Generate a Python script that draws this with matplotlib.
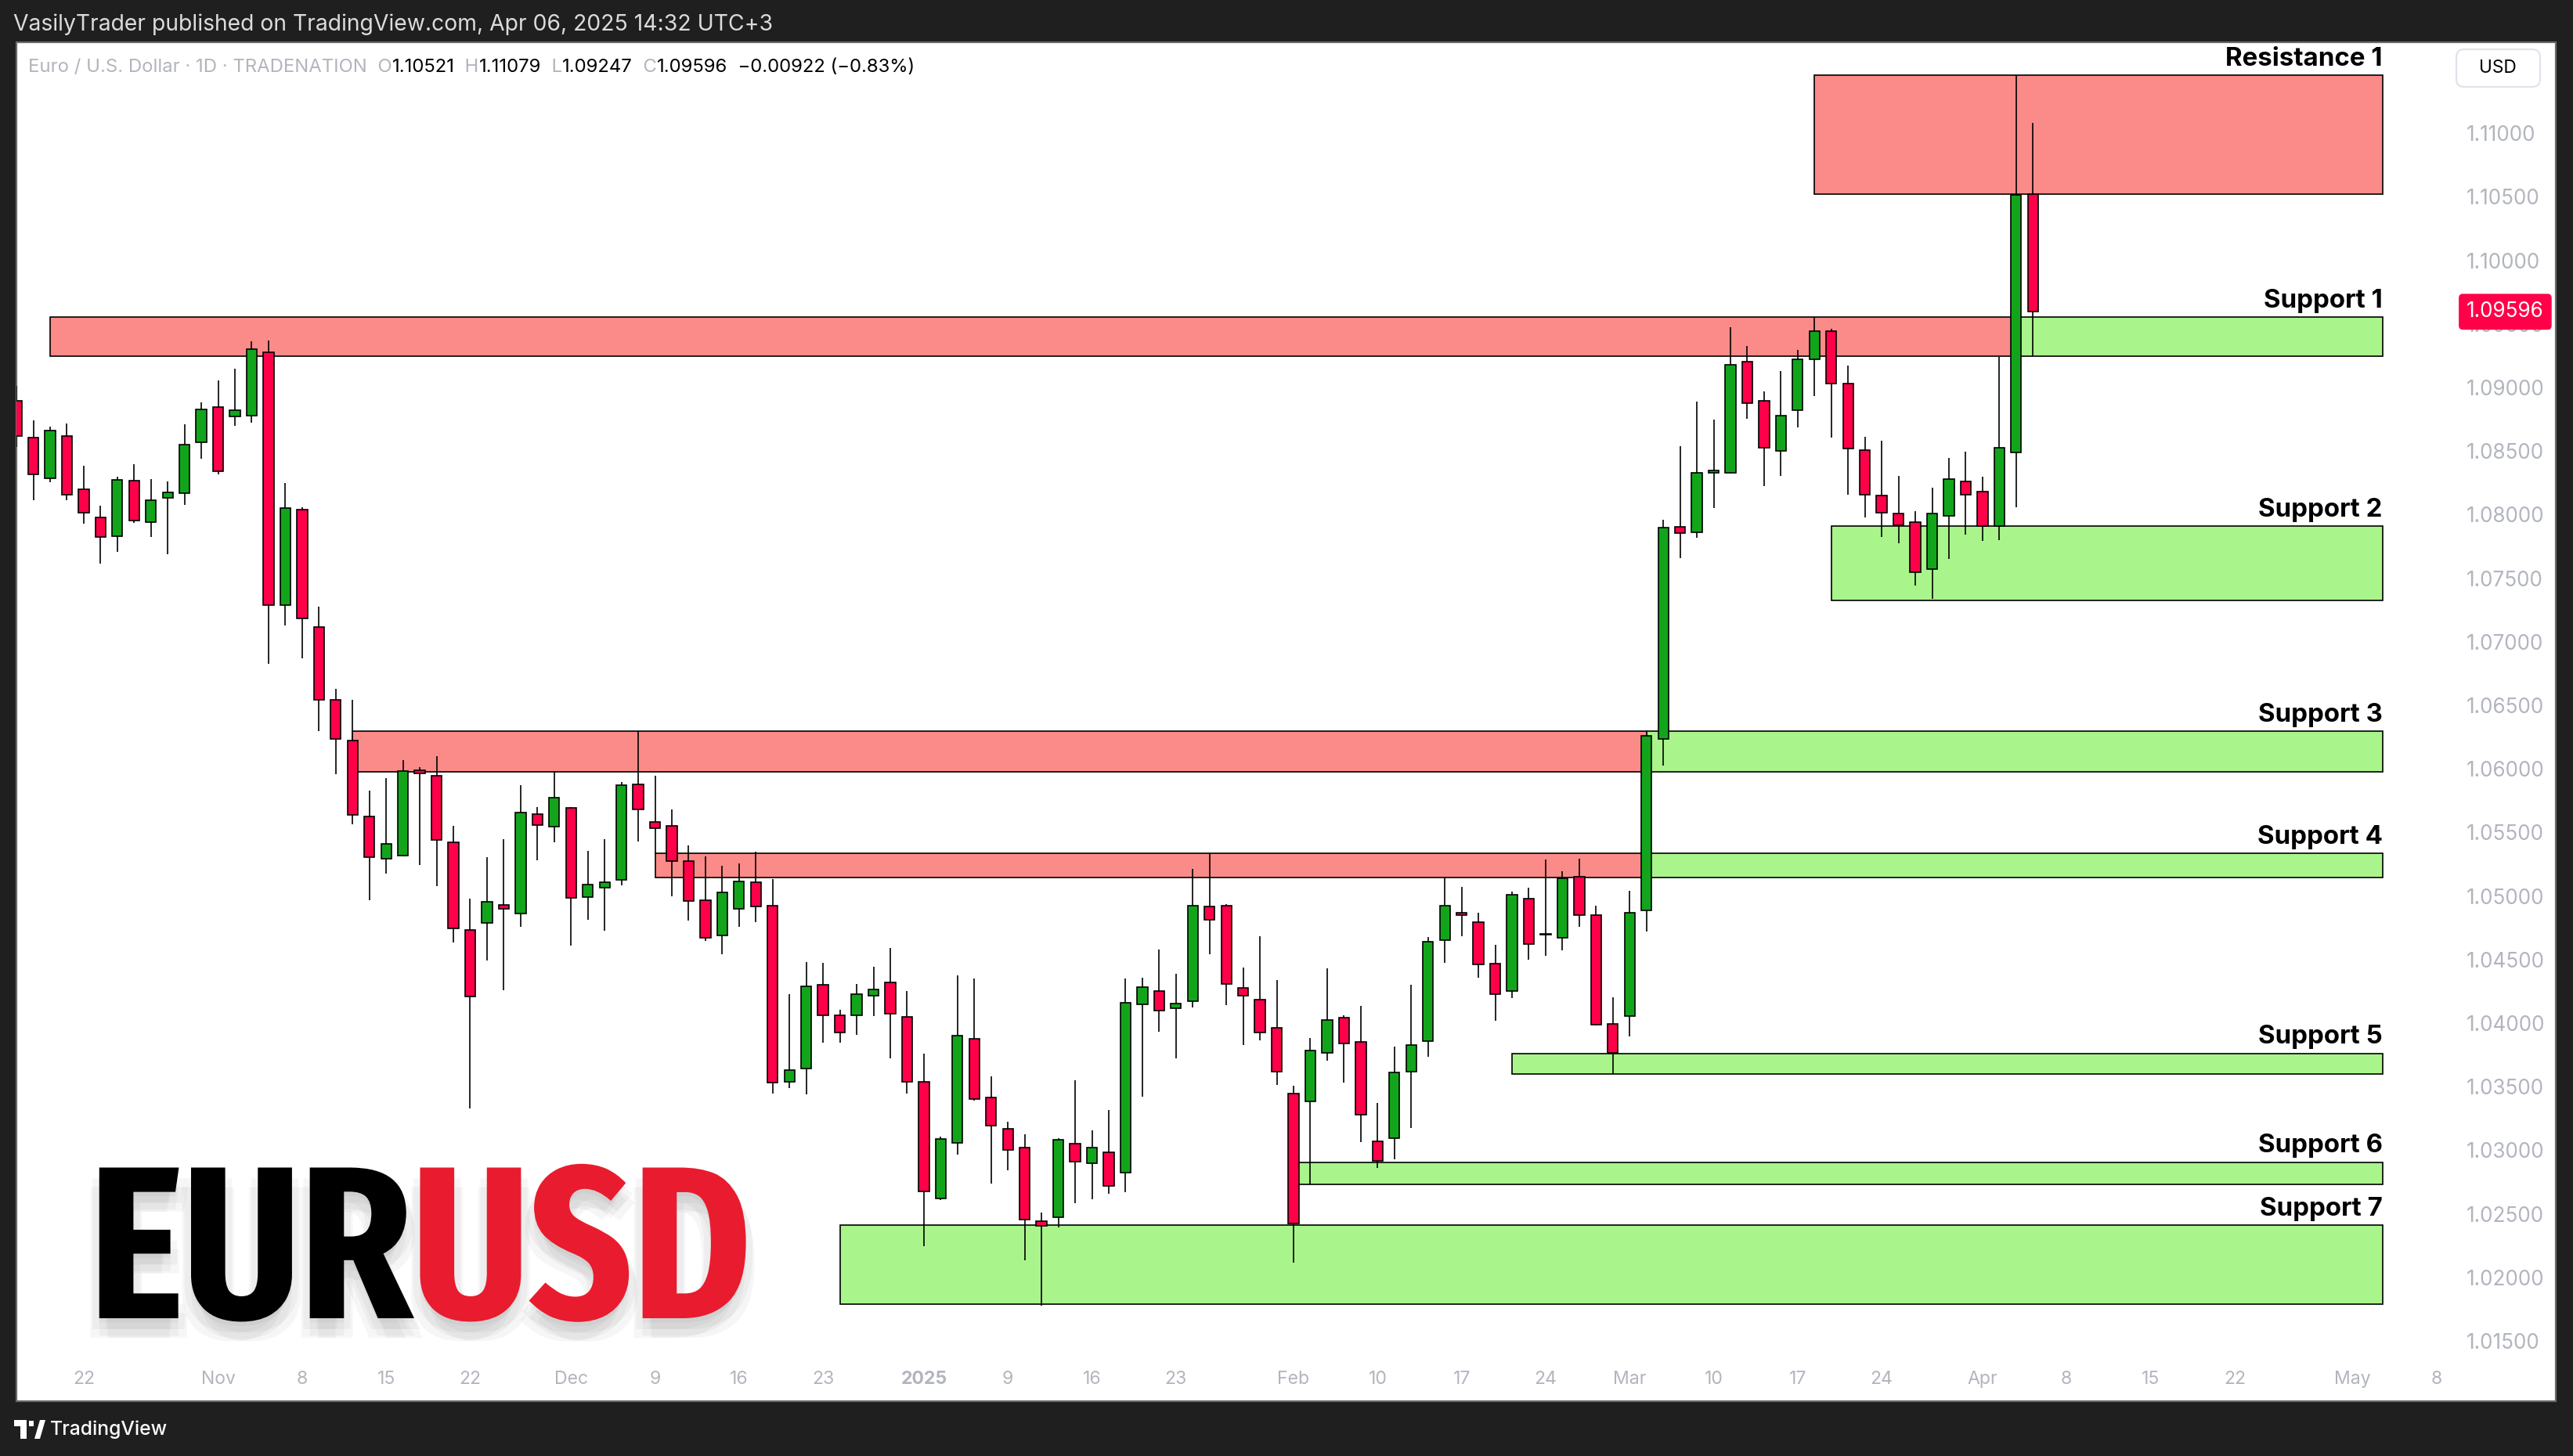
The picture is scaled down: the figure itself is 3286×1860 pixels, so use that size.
import matplotlib
matplotlib.use("Agg")
import matplotlib.pyplot as plt
from matplotlib import font_manager
from matplotlib import patheffects
from matplotlib.patches import Rectangle, Polygon, FancyBboxPatch
import numpy as np
import pandas as pd

# EUR/USD daily candles (TRADENATION, 1D)
dates = [
    "2024-10-16", "2024-10-17", "2024-10-18", "2024-10-21", "2024-10-22", "2024-10-23",
    "2024-10-24", "2024-10-25", "2024-10-28", "2024-10-29", "2024-10-30", "2024-10-31",
    "2024-11-01", "2024-11-04", "2024-11-05", "2024-11-06", "2024-11-07", "2024-11-08",
    "2024-11-11", "2024-11-12", "2024-11-13", "2024-11-14", "2024-11-15", "2024-11-18",
    "2024-11-19", "2024-11-20", "2024-11-21", "2024-11-22", "2024-11-25", "2024-11-26",
    "2024-11-27", "2024-11-28", "2024-11-29", "2024-12-02", "2024-12-03", "2024-12-04",
    "2024-12-05", "2024-12-06", "2024-12-09", "2024-12-10", "2024-12-11", "2024-12-12",
    "2024-12-13", "2024-12-16", "2024-12-17", "2024-12-18", "2024-12-19", "2024-12-20",
    "2024-12-23", "2024-12-24", "2024-12-26", "2024-12-27", "2024-12-30", "2024-12-31",
    "2025-01-02", "2025-01-03", "2025-01-06", "2025-01-07", "2025-01-08", "2025-01-09",
    "2025-01-10", "2025-01-13", "2025-01-14", "2025-01-15", "2025-01-16", "2025-01-17",
    "2025-01-20", "2025-01-21", "2025-01-22", "2025-01-23", "2025-01-24", "2025-01-27",
    "2025-01-28", "2025-01-29", "2025-01-30", "2025-01-31", "2025-02-03", "2025-02-04",
    "2025-02-05", "2025-02-06", "2025-02-07", "2025-02-10", "2025-02-11", "2025-02-12",
    "2025-02-13", "2025-02-14", "2025-02-17", "2025-02-18", "2025-02-19", "2025-02-20",
    "2025-02-21", "2025-02-24", "2025-02-25", "2025-02-26", "2025-02-27", "2025-02-28",
    "2025-03-03", "2025-03-04", "2025-03-05", "2025-03-06", "2025-03-07", "2025-03-10",
    "2025-03-11", "2025-03-12", "2025-03-13", "2025-03-14", "2025-03-17", "2025-03-18",
    "2025-03-19", "2025-03-20", "2025-03-21", "2025-03-24", "2025-03-25", "2025-03-26",
    "2025-03-27", "2025-03-28", "2025-03-31", "2025-04-01", "2025-04-02", "2025-04-03",
    "2025-04-04",
]
opens = [
    1.08898, 1.08606, 1.08288, 1.08620, 1.08202, 1.07980, 1.07830, 1.08269, 1.07941, 1.08132,
    1.08169, 1.08569, 1.08848, 1.08772, 1.08779, 1.09277, 1.07286, 1.08042, 1.07115, 1.06545,
    1.06224, 1.05623, 1.05296, 1.05316, 1.05987, 1.05944, 1.05423, 1.04732, 1.04789, 1.04929,
    1.04862, 1.05643, 1.05547, 1.05694, 1.04992, 1.05066, 1.05129, 1.05877, 1.05583, 1.05550,
    1.05276, 1.04966, 1.04692, 1.04899, 1.05109, 1.04925, 1.03538, 1.03642, 1.04303, 1.04063,
    1.04061, 1.04217, 1.04322, 1.04046, 1.03540, 1.02618, 1.03057, 1.03877, 1.03415, 1.03170,
    1.03021, 1.02442, 1.02470, 1.03054, 1.02896, 1.02981, 1.02821, 1.04145, 1.04254, 1.04115,
    1.04174, 1.04919, 1.04926, 1.04277, 1.04185, 1.03964, 1.03445, 1.03384, 1.03766, 1.04045,
    1.03852, 1.03071, 1.03094, 1.03621, 1.03856, 1.04650, 1.04866, 1.04795, 1.04469, 1.04253,
    1.04976, 1.04695, 1.04673, 1.05152, 1.04850, 1.03994, 1.04057, 1.04889, 1.06237, 1.07905,
    1.07858, 1.08329, 1.08329, 1.09205, 1.08898, 1.08502, 1.08824, 1.09223, 1.09446, 1.09029,
    1.08506, 1.08152, 1.08010, 1.07943, 1.07572, 1.07993, 1.08261, 1.08184, 1.07912, 1.08491,
    1.10521,
]
highs = [
    1.09011, 1.08740, 1.08690, 1.08715, 1.08382, 1.08068, 1.08296, 1.08395, 1.08278, 1.08259,
    1.08709, 1.08881, 1.09054, 1.09148, 1.09362, 1.09368, 1.08247, 1.08056, 1.07279, 1.06631,
    1.06541, 1.05827, 1.05930, 1.06071, 1.06011, 1.06097, 1.05550, 1.04982, 1.05306, 1.05450,
    1.05874, 1.05697, 1.05977, 1.05700, 1.05353, 1.05447, 1.05894, 1.06294, 1.05947, 1.05683,
    1.05396, 1.05310, 1.05240, 1.05253, 1.05346, 1.05130, 1.04228, 1.04480, 1.04474, 1.04104,
    1.04305, 1.04443, 1.04590, 1.04251, 1.03757, 1.03104, 1.04374, 1.04351, 1.03580, 1.03224,
    1.03125, 1.02507, 1.03094, 1.03549, 1.03155, 1.03316, 1.04351, 1.04358, 1.04577, 1.04386,
    1.05216, 1.05334, 1.04937, 1.04440, 1.04681, 1.04341, 1.03507, 1.03882, 1.04431, 1.04060,
    1.04135, 1.03369, 1.03817, 1.04300, 1.04677, 1.05149, 1.05070, 1.04870, 1.04614, 1.05035,
    1.05066, 1.05286, 1.05196, 1.05294, 1.04925, 1.04202, 1.05043, 1.06299, 1.07961, 1.08537,
    1.08891, 1.08749, 1.09474, 1.09326, 1.08969, 1.09131, 1.09294, 1.09552, 1.09464, 1.09174,
    1.08612, 1.08583, 1.08304, 1.08028, 1.08212, 1.08445, 1.08495, 1.08297, 1.09241, 1.11457,
    1.11079,
]
lows = [
    1.08534, 1.08115, 1.08257, 1.08115, 1.07931, 1.07614, 1.07707, 1.07937, 1.07826, 1.07688,
    1.08076, 1.08440, 1.08317, 1.08701, 1.08723, 1.06826, 1.07130, 1.06871, 1.06294, 1.05957,
    1.05563, 1.04969, 1.05173, 1.05310, 1.05243, 1.05076, 1.04632, 1.03330, 1.04495, 1.04261,
    1.04756, 1.05283, 1.05420, 1.04612, 1.04815, 1.04729, 1.05086, 1.05430, 1.05333, 1.05000,
    1.04809, 1.04649, 1.04542, 1.04756, 1.04796, 1.03448, 1.03486, 1.03437, 1.03847, 1.03843,
    1.03910, 1.04057, 1.03724, 1.03448, 1.02246, 1.02609, 1.02967, 1.03390, 1.02736, 1.02844,
    1.02133, 1.01777, 1.02394, 1.02585, 1.02613, 1.02658, 1.02672, 1.03422, 1.03929, 1.03724,
    1.04124, 1.04544, 1.04143, 1.03830, 1.03867, 1.03511, 1.02116, 1.02734, 1.03707, 1.03534,
    1.03063, 1.02862, 1.02929, 1.03177, 1.03738, 1.04477, 1.04681, 1.04359, 1.04017, 1.04194,
    1.04501, 1.04532, 1.04571, 1.04756, 1.03982, 1.03601, 1.03892, 1.04720, 1.06028, 1.07657,
    1.07816, 1.08053, 1.08320, 1.08757, 1.08226, 1.08307, 1.08689, 1.08930, 1.08608, 1.08155,
    1.07975, 1.07823, 1.07774, 1.07445, 1.07335, 1.07650, 1.07844, 1.07791, 1.07802, 1.08057,
    1.09247,
]
closes = [
    1.08620, 1.08317, 1.08662, 1.08157, 1.08015, 1.07824, 1.08276, 1.07951, 1.08115, 1.08177,
    1.08553, 1.08830, 1.08341, 1.08824, 1.09304, 1.07286, 1.08054, 1.07183, 1.06545, 1.06237,
    1.05640, 1.05306, 1.05413, 1.05984, 1.05964, 1.05443, 1.04746, 1.04211, 1.04956, 1.04896,
    1.05657, 1.05557, 1.05774, 1.04986, 1.05089, 1.05106, 1.05874, 1.05683, 1.05533, 1.05276,
    1.04962, 1.04672, 1.05029, 1.05116, 1.04916, 1.03532, 1.03631, 1.04292, 1.04061, 1.03927,
    1.04230, 1.04266, 1.04074, 1.03539, 1.02675, 1.03089, 1.03903, 1.03401, 1.03191, 1.03000,
    1.02453, 1.02406, 1.03083, 1.02908, 1.03021, 1.02719, 1.04162, 1.04285, 1.04098, 1.04155,
    1.04926, 1.04810, 1.04308, 1.04216, 1.03926, 1.03618, 1.02422, 1.03785, 1.04025, 1.03840,
    1.03279, 1.02913, 1.03613, 1.03825, 1.04642, 1.04925, 1.04850, 1.04461, 1.04229, 1.05011,
    1.04622, 1.04700, 1.05141, 1.04850, 1.03990, 1.03766, 1.04870, 1.06260, 1.07898, 1.07857,
    1.08329, 1.08350, 1.09181, 1.08877, 1.08527, 1.08781, 1.09223, 1.09446, 1.09032, 1.08523,
    1.08159, 1.08014, 1.07915, 1.07547, 1.08010, 1.08279, 1.08159, 1.07912, 1.08527, 1.10518,
    1.09596,
]

# drawn zones
zone_names = ["Resistance 1", "Support 1", "Support 2", "Support 3",
              "Support 4", "Support 5", "Support 6", "Support 7"]
zone_low = [1.10524, 1.09244, 1.07325, 1.05977, 1.05146, 1.03601, 1.02733, 1.01791]
zone_high = [1.11457, 1.09552, 1.07911, 1.06297, 1.05336, 1.03762, 1.02906, 1.02411]
zone_start = ["2025-03-18", "2024-10-18", "2025-03-19", "2024-11-13",
              "2024-12-09", "2025-02-20", "2025-02-03", "2024-12-24"]
# where the red part turns green ("end" = red all the way, None = green only)
zone_flip = ["end", "2025-04-03", None, "2025-03-04", "2025-03-04", None, None, None]

xtick_dates = ["2024-10-22", "2024-11-01", "2024-11-08", "2024-11-15", "2024-11-22",
               "2024-12-02", "2024-12-09", "2024-12-16", "2024-12-23", "2025-01-02",
               "2025-01-09", "2025-01-16", "2025-01-23", "2025-02-03", "2025-02-10",
               "2025-02-17", "2025-02-24", "2025-03-03", "2025-03-10", "2025-03-17",
               "2025-03-24", "2025-04-01", "2025-04-08", "2025-04-15", "2025-04-22",
               "2025-05-01", "2025-05-08"]
xtick_labels = ["22", "Nov", "8", "15", "22", "Dec", "9", "16", "23", "2025", "9", "16",
                "23", "Feb", "10", "17", "24", "Mar", "10", "17", "24", "Apr", "8", "15",
                "22", "May", "8"]
ytick_values = [1.015, 1.02, 1.025, 1.03, 1.035, 1.04, 1.045, 1.05, 1.055, 1.06, 1.065,
                1.07, 1.075, 1.08, 1.085, 1.09, 1.095, 1.10, 1.105, 1.11]

W, H = 3286, 1860
DPI = 200
ZONE_RIGHT = 140.8

CANDLE_RED = "#FF0049"
CANDLE_GREEN = "#12A51C"
ZONE_RED = "#FA8B88"
ZONE_GREEN = "#A9F58B"
AXIS_GREY = "#B2B5BE"
FRAME = "#1F1F1F"


def fx(px):
    return px / W


def fy(py):
    return 1 - py / H


def logo_font():
    # a bold condensed face for the big EURUSD caption, if one is installed
    ranked = []
    for f in font_manager.fontManager.ttflist:
        base = f.fname.rsplit("/", 1)[-1].lower()
        if "italic" in base or "oblique" in base:
            continue
        if "bold" not in base or "semibold" in base or "extrabold" in base:
            continue
        if "extracondensed" in base:
            rank = 0
        elif "semicondensed" in base:
            rank = 3
        elif "condensed" in base:
            rank = 1
        elif "narrow" in base:
            rank = 2
        else:
            continue
        ranked.append((rank, base, f.fname))
    if ranked:
        ranked.sort()
        return font_manager.FontProperties(fname=ranked[0][2])
    return font_manager.FontProperties(family="DejaVu Sans", weight="bold")


avail = {f.name for f in font_manager.fontManager.ttflist}
plt.rcParams["font.family"] = ["Inter", "DejaVu Sans"] if "Inter" in avail else ["DejaVu Sans"]

# trading calendar used as the x scale (weekends and holidays skipped)
cal = pd.bdate_range("2024-10-16", "2025-05-30")
cal = cal.drop(pd.to_datetime(["2024-12-25", "2025-01-01"]))
idx = {d.strftime("%Y-%m-%d"): i for i, d in enumerate(cal)}

x = np.array([idx[d] for d in dates])
o = np.array(opens)
h = np.array(highs)
l = np.array(lows)
c = np.array(closes)

fig = plt.figure(figsize=(W / DPI, H / DPI), dpi=DPI)
fig.patch.set_facecolor(FRAME)

# white chart panel
fig.add_artist(Rectangle((fx(21), fy(1790)), fx(3264) - fx(21), (1790 - 54) / H,
                         transform=fig.transFigure, facecolor="white",
                         edgecolor="#6A6A6A", linewidth=0.8, zorder=-5))

ax = fig.add_axes([fx(21), fy(1740), fx(3127) - fx(21), (1740 - 54) / H])
ax.set_facecolor("none")
for s in ax.spines.values():
    s.set_visible(False)

# zones
for i, name in enumerate(zone_names):
    x0 = idx[zone_start[i]]
    flip = zone_flip[i]
    if flip == "end":
        segs = [(x0, ZONE_RIGHT, ZONE_RED)]
    elif flip is None:
        segs = [(x0, ZONE_RIGHT, ZONE_GREEN)]
    else:
        xf = idx[flip]
        segs = [(x0, xf, ZONE_RED), (xf, ZONE_RIGHT, ZONE_GREEN)]
    for a, b, fc in segs:
        ax.barh(zone_low[i], b - a, height=zone_high[i] - zone_low[i], left=a,
                align="edge", color=fc, edgecolor="black", linewidth=0.6, zorder=2)
    ax.annotate(name, xy=(ZONE_RIGHT, zone_high[i]), xytext=(0, 4.4),
                textcoords="offset points", ha="right", va="baseline",
                fontsize=11.9, fontweight="bold", color="black", zorder=6)

# candles
up = c >= o
ax.vlines(x, l, h, color="black", linewidth=0.6, zorder=3)
ax.bar(x, np.maximum(np.abs(c - o), 0.00004), width=0.62, bottom=np.minimum(o, c),
       color=np.where(up, CANDLE_GREEN, CANDLE_RED), edgecolor="black",
       linewidth=0.6, zorder=4)

ax.set_xlim(-0.002, 144.73)
ax.set_ylim(1.013332, 1.117162)

ax.set_xticks([idx[d] for d in xtick_dates], xtick_labels)
ax.tick_params(axis="x", length=0, pad=4, labelsize=8.3, labelcolor=AXIS_GREY)
for t in ax.get_xticklabels():
    if t.get_text() == "2025":
        t.set_fontweight("bold")

ax.yaxis.tick_right()
ax.set_yticks(ytick_values, [f"{v:.5f}" for v in ytick_values])
ax.tick_params(axis="y", length=0, pad=8.3, labelsize=9.4, labelcolor=AXIS_GREY)

# last price tag (covers the 1.09500 label, as on the original)
ax.annotate(f"{c[-1]:.5f}", xy=(1, c[-1]), xycoords=("axes fraction", "data"),
            xytext=(8.3, 0), textcoords="offset points", ha="left", va="center",
            color="white", fontsize=9.4,
            bbox=dict(boxstyle="round,pad=0.38,rounding_size=0.2", fc=CANDLE_RED, ec="none"),
            annotation_clip=False, zorder=10)

# currency box
fig.add_artist(FancyBboxPatch((3137, H - 111), 107, 48,
                              boxstyle="round,pad=0,rounding_size=10",
                              transform=None, facecolor="white",
                              edgecolor="#E0E3EB", linewidth=0.8))
fig.text(fx(3190), fy(87), "USD", ha="center", va="center", fontsize=8.2, color="black")

# header line above the chart
fig.text(fx(17), fy(31), "VasilyTrader published on TradingView.com, Apr 06, 2025 14:32 UTC+3",
         color="#DBDBDB", fontsize=10.2, va="center", ha="left")

# legend row: symbol and OHLC of the last bar
chg = c[-1] - c[-2]
pct = chg / c[-2] * 100
sign = "−" if chg < 0 else "+"
pieces = [("  O", AXIS_GREY), (f"{o[-1]:.5f}", "black"),
          ("  H", AXIS_GREY), (f"{h[-1]:.5f}", "black"),
          ("  L", AXIS_GREY), (f"{l[-1]:.5f}", "black"),
          ("  C", AXIS_GREY), (f"{c[-1]:.5f}", "black"),
          (f"  {sign}{abs(chg):.5f} ({sign}{abs(pct):.2f}%)", "black")]
prev = fig.text(fx(36), fy(86), "Euro / U.S. Dollar · 1D · TRADENATION", color=AXIS_GREY,
                fontsize=8.6, va="center", ha="left")
for txt, col in pieces:
    prev = ax.annotate(txt, xy=(1, 0.5), xycoords=prev, ha="left", va="center",
                       color=col, fontsize=8.6, annotation_clip=False)

# big EURUSD caption with a soft drop shadow
lf = logo_font()
shadow = [patheffects.SimplePatchShadow(offset=off, shadow_rgbFace=(0.5, 0.5, 0.5), alpha=0.07)
          for off in [(0, -2), (3, -5), (-3, -5), (0, -8), (4, -9), (-4, -9)]]
shadow.append(patheffects.Normal())
eur = fig.text(fx(114), fy(1684), "EUR", fontproperties=lf, fontsize=100, color="black",
               ha="left", va="baseline", path_effects=shadow)
ax.annotate("USD", xy=(1, 0), xycoords=eur, ha="left", va="bottom", fontproperties=lf,
            fontsize=100, color="#E81C2E", annotation_clip=False, path_effects=shadow)

# footer logo
fig.add_artist(Rectangle((fx(18), fy(1822)), fx(16), 8 / H, transform=fig.transFigure,
                         facecolor="white", edgecolor="none"))
fig.add_artist(Rectangle((fx(26), fy(1838)), fx(8), 24 / H, transform=fig.transFigure,
                         facecolor="white", edgecolor="none"))
fig.add_artist(Polygon([(fx(44), fy(1838)), (fx(51), fy(1838)), (fx(58), fy(1814)),
                        (fx(51), fy(1814))], closed=True, transform=fig.transFigure,
                       facecolor="white", edgecolor="none"))
fig.add_artist(Rectangle((fx(37), fy(1822)), fx(6), 7 / H, transform=fig.transFigure,
                         facecolor="white", edgecolor="none"))
fig.text(fx(64), fy(1826), "TradingView", color="white", fontsize=8.9, fontweight="medium",
         va="center", ha="left")

fig.savefig("out.png", dpi=DPI, facecolor=FRAME)
